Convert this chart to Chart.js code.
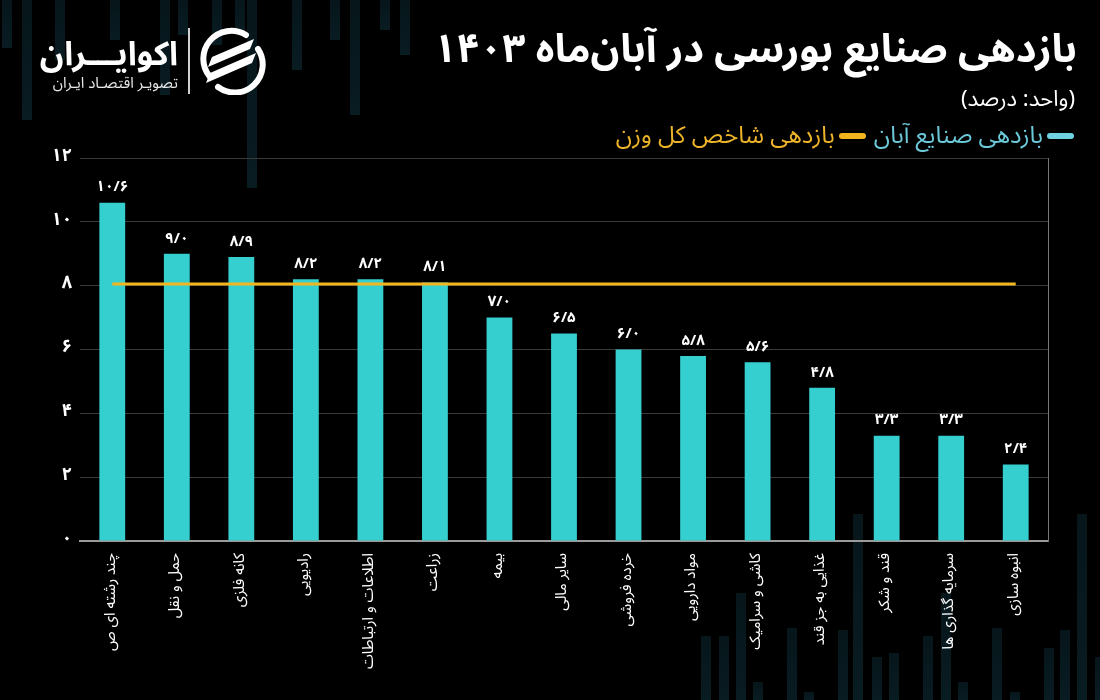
<!DOCTYPE html>
<html lang="fa">
<head>
<meta charset="utf-8">
<script src="https://cdn.jsdelivr.net/npm/chart.js@4.4.1/dist/chart.umd.min.js"></script>
<style>
  html, body { margin:0; padding:0; background:#000; }
  #wrap { position:relative; width:1100px; height:700px; overflow:hidden; background:#000;
          font-family:'Noto Sans Arabic','Vazirmatn','DejaVu Sans',sans-serif; }
  .deco { position:absolute; background:linear-gradient(#06161b,#091c22); }
  #c { position:absolute; left:0; top:0; }
  #title { position:absolute; right:23px; top:7px; color:#fff; font-size:40px; font-weight:bold; direction:rtl; white-space:nowrap; }
  #unit { position:absolute; right:25px; top:76px; color:#fff; font-size:22px; direction:rtl; white-space:nowrap; }
  #legend { position:absolute; right:26px; top:110px; direction:rtl; display:flex; gap:8px; font-size:24px; white-space:nowrap; }
  #legend .item { display:flex; align-items:center; gap:4px; }
  #legend .sw { display:inline-block; width:27px; height:6px; border-radius:3px; }
  #logo1 { position:absolute; right:922px; top:20px; color:#fff; font-size:33px; font-weight:bold; direction:rtl; white-space:nowrap; }
  #logo2 { position:absolute; right:922px; top:67px; color:#e8e8e8; font-size:15px; direction:rtl; white-space:nowrap; }
  #sep { position:absolute; left:188px; top:28px; width:2px; height:66px; background:#d0d0d0; }
  #icon { position:absolute; left:198px; top:27px; }
</style>
</head>
<body>
<div id="wrap">
  <div id="decos"></div>
  <canvas id="c" width="1100" height="700"></canvas>
  <div id="logo1">اکوایـــران</div>
  <div id="logo2">تصویـر اقتصـاد ایـران</div>
  <div id="sep"></div>
  <svg id="icon" width="68" height="68" viewBox="0 0 68 68">
    <path d="M12 50 A28 28 0 0 1 48 8" fill="none" stroke="#fff" stroke-width="6" stroke-linecap="round"/>
    <path d="M20 60 A28 28 0 0 0 60 22" fill="none" stroke="#fff" stroke-width="6" stroke-linecap="round"/>
    <path d="M14 30 L56 12 L52 22 L10 40 Z" fill="#fff"/>
    <path d="M12 46 L58 26 L54 36 L8 56 Z" fill="#fff"/>
  </svg>
  <div id="title">بازدهی صنایع بورسی در آبان‌ماه ۱۴۰۳</div>
  <div id="unit">(واحد: درصد)</div>
  <div id="legend"></div>
</div>
<script>
// ---- data ----
const categories = ['چند رشته ای ص','حمل و نقل','کانه فلزی','رادیویی','اطلاعات و ارتباطات','زراعت','بیمه','سایر مالی','خرده فروشی','مواد دارویی','کاشی و سرامیک','غذایی به جز قند','قند و شکر','سرمایه گذاری ها','انبوه سازی'];
const industryReturns = [10.6, 9.0, 8.9, 8.2, 8.2, 8.1, 7.0, 6.5, 6.0, 5.8, 5.6, 4.8, 3.3, 3.3, 2.4];
const indexReturn = [8.05, 8.05, 8.05, 8.05, 8.05, 8.05, 8.05, 8.05, 8.05, 8.05, 8.05, 8.05, 8.05, 8.05, 8.05];
const yTicks = [0, 2, 4, 6, 8, 10, 12];
const seriesNames = ['بازدهی صنایع آبان', 'بازدهی شاخص کل وزن'];

// background decoration stripes [left, top, height]
const decoTop = [[2,0,48],[22,0,120],[55,0,60],[110,0,40],[160,0,95],[178,0,35],[212,0,45],[235,0,30],[247,0,188],[292,0,70],[330,0,40],[350,0,115],[380,0,30],[400,0,55]];
const decoBottom = [[701,636],[719,636],[736,593],[753,682],[787,628],[804,692],[838,630],[853,514],[872,657],[889,653],[923,636],[941,593],[958,682],[992,628],[1010,692],[1044,648],[1060,630],[1077,514],[1095,657]];
const decoEl = document.getElementById('decos');
decoTop.forEach(d => { const e = document.createElement('div'); e.className='deco'; e.style.cssText=`left:${d[0]}px;top:${d[1]}px;width:10px;height:${d[2]}px`; decoEl.appendChild(e); });
decoBottom.forEach(d => { const e = document.createElement('div'); e.className='deco'; e.style.cssText=`left:${d[0]}px;top:${d[1]}px;width:10px;height:${700-d[1]}px`; decoEl.appendChild(e); });

const BAR = '#36CFCF';
const LINE = '#F2B51E';
const FONT = "'Noto Sans Arabic','Vazirmatn','DejaVu Sans',sans-serif";

const faDigits = '۰۱۲۳۴۵۶۷۸۹';
function toFa(s) { return String(s).replace(/[0-9]/g, d => faDigits[+d]).replace('.', '/'); }

// legend (HTML, from dataset names & colours)
const legendColors = [{sw:'#6FD0E0', txt:'#6CC9D9'}, {sw:'#F2B51E', txt:'#EDB42A'}];
const lg = document.getElementById('legend');
seriesNames.forEach((n,i) => {
  const it = document.createElement('div'); it.className='item';
  it.innerHTML = `<span class="sw" style="background:${legendColors[i].sw}"></span><span style="color:${legendColors[i].txt}">${n}</span>`;
  lg.appendChild(it);
});

const valueLabels = {
  id: 'valueLabels',
  afterDatasetsDraw(chart) {
    const ctx = chart.ctx;
    const meta = chart.getDatasetMeta(0);
    ctx.save();
    ctx.fillStyle = '#fff';
    ctx.font = "bold 15px " + FONT;
    ctx.textAlign = 'center';
    ctx.textBaseline = 'bottom';
    meta.data.forEach((el, i) => {
      ctx.fillText(toFa(industryReturns[i].toFixed(1)), el.x, el.y - 6);
    });
    ctx.restore();
  }
};

new Chart(document.getElementById('c'), {
  data: {
    labels: categories,
    datasets: [
      { type:'bar', label: seriesNames[0], data: industryReturns, backgroundColor: BAR, barPercentage: 0.4, categoryPercentage: 1.0, order: 1 },
      { type:'line', label: seriesNames[1], data: indexReturn, borderColor: LINE, borderWidth: 3, pointRadius: 0, tension: 0, order: 0 }
    ]
  },
  options: {
    responsive: false,
    animation: false,
    devicePixelRatio: 1,
    layout: { padding: { top: 158, left: 0, right: 52, bottom: 0 } },
    plugins: { legend: { display: false }, tooltip: { enabled: false } },
    scales: {
      x: {
        grid: { display: false },
        border: { display: true, color: '#9a9a9a', width: 2 },
        ticks: { color: '#fff', font: { family: FONT, size: 15 }, minRotation: 90, maxRotation: 90, padding: 4, autoSkip: false },
        afterFit: s => { s.height = 159; }
      },
      y: {
        min: 0, max: 12,
        afterBuildTicks: s => { s.ticks = yTicks.map(v => ({ value: v })); },
        grid: { color: '#3a3a3a', lineWidth: 1, drawTicks: false },
        border: { display: false },
        ticks: { color: '#fff', font: { family: FONT, size: 18, weight: 'bold' }, padding: 8, callback: v => toFa(v) },
        afterFit: s => { s.width = 80; }
      },
      y2: {
        position: 'right', min: 0, max: 12,
        grid: { display: false },
        border: { display: true, color: '#777', width: 1 },
        ticks: { display: false },
        afterFit: s => { s.width = 0; }
      }
    }
  },
  plugins: [valueLabels]
});
</script>
</body>
</html>
